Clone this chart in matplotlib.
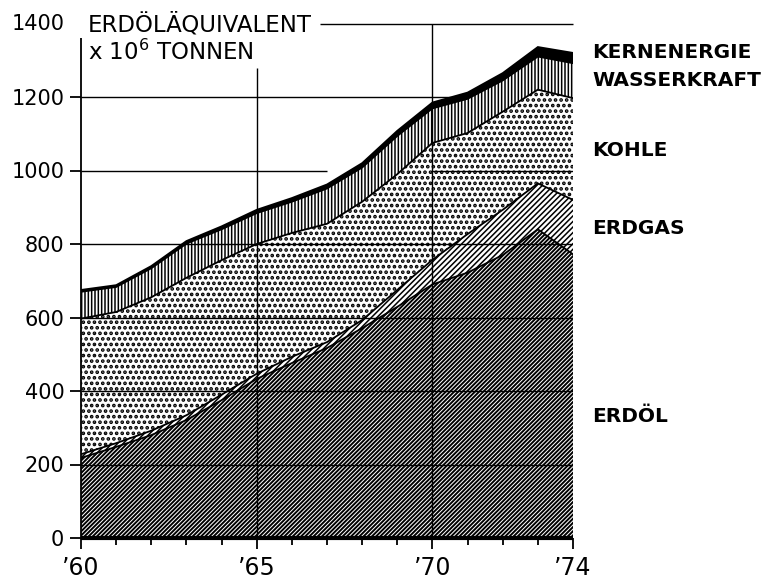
import numpy as np
import matplotlib
matplotlib.use('Agg')
import matplotlib.pyplot as plt

years = np.arange(1960, 1975)
# Erdöläquivalent, 10^6 t
erdoel = [218, 248, 280, 321, 375, 433, 476, 517, 571, 629, 690, 722, 770, 840, 772]
erdgas = [10, 10, 12, 13, 15, 14, 17, 16, 22, 46, 67, 105, 123, 125, 148]
kohle = [369, 357, 363, 374, 366, 353, 337, 322, 322, 315, 318, 275, 267, 255, 277]
wasserkraft = [73, 68, 79, 93, 84, 84, 85, 96, 93, 104, 94, 93, 85, 90, 95]
kernenergie = [5, 5, 6, 7, 8, 9, 10, 11, 12, 14, 16, 17, 20, 26, 28]

xlabels = ['’60', '’65', '’70', '’74']
xlabel_years = [1960, 1965, 1970, 1974]
yticks = [0, 200, 400, 600, 800, 1000, 1200]

layers = [erdoel, erdgas, kohle, wasserkraft, kernenergie]
hatches = ['////////', '//////', '...', '|||||', None]
hatch_lw = [1.4, 1.1, 1.8, 1.1, 1.0]

fig = plt.figure(figsize=(7.71, 5.79), dpi=100)
ax = fig.add_axes([81/771, 41/579, 492/771, 514.5/579])
ax.set_xlim(1960, 1974)
ax.set_ylim(0, 1400)
for s in ax.spines.values():
    s.set_visible(False)

bottom = np.zeros(len(years))
for vals, h, hl in zip(layers, hatches, hatch_lw):
    top = bottom + np.array(vals)
    with plt.rc_context({'hatch.linewidth': hl, 'hatch.color': 'black'}):
        if h is None:
            p = ax.fill_between(years, bottom, top, facecolor='black', linewidth=0, zorder=2)
        else:
            p = ax.fill_between(years, bottom, top, facecolor='white', edgecolor='black',
                                hatch=h, linewidth=0, zorder=2)
    if hasattr(p, 'set_hatch_linewidth'):
        p.set_hatch_linewidth(hl)
    ax.plot(years, top, color='black', lw=1.3, zorder=4, solid_joinstyle='miter')
    bottom = top

# grid as in the original drawing
ax.hlines([200, 400, 600, 800], 1960, 1974, color='black', lw=1.0, zorder=3)
ax.hlines(1000, 1960, 1967, color='black', lw=1.0, zorder=3)
ax.hlines(1000, 1970, 1974, color='black', lw=1.0, zorder=3)
ax.hlines(1200, 1960, 1974, color='black', lw=1.0, zorder=1)
ax.hlines(1400, 1966.8, 1974, color='black', lw=1.0, zorder=1, clip_on=False)
ax.vlines(1965, 0, 1279, color='black', lw=1.0, zorder=3)
ax.vlines(1970, 0, 1400, color='black', lw=1.0, zorder=3)
ax.vlines(1960, 0, 1360, color='black', lw=1.3, zorder=5, clip_on=False)
ax.hlines(0, 1960, 1974, color='black', lw=3.0, zorder=5, clip_on=False)

ax.set_xticks(years, minor=True)
ax.set_xticks(xlabel_years)
ax.set_xticklabels(xlabels, fontsize=17)
ax.set_yticks(yticks)
ax.set_yticklabels([str(v) for v in yticks], fontsize=15)
ax.tick_params(axis='x', which='major', length=8, width=1.3, pad=5)
ax.tick_params(axis='x', which='minor', length=5, width=1.3)
ax.tick_params(axis='y', length=8, width=1.3, pad=4)
ax.text(-0.033, 1400, '1400', transform=ax.get_yaxis_transform(), fontsize=15,
        ha='right', va='center')

fig.text(88/771, 1 - 25/579, 'ERDÖLÄQUIVALENT', fontsize=16.5, va='center', ha='left')
fig.text(88/771, 1 - 52/579, r'x 10$^{6}$ TONNEN', fontsize=16.5, va='center', ha='left')

side = [('KERNENERGIE', 52), ('WASSERKRAFT', 80), ('KOHLE', 150),
        ('ERDGAS', 228), ('ERDÖL', 417)]
for txt, ypx in side:
    fig.text(592/771, 1 - ypx/579, txt, fontsize=14.5, fontweight='bold',
             va='center', ha='left')

fig.savefig('out.png', dpi=100)
